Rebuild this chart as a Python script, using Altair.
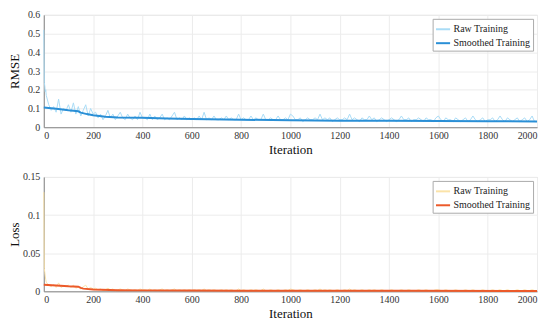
import altair as alt
import pandas as pd

# ---------------- data ----------------
raw_iter = [0, 2, 4, 6, 8] + list(range(10, 2001, 10))

rmse_raw = [0.52, 0.24, 0.22, 0.19, 0.2,
    0.17, 0.12, 0.09, 0.11, 0.08, 0.15, 0.07, 0.10, 0.09, 0.12,
    0.08, 0.13, 0.07, 0.11, 0.06, 0.09, 0.12, 0.06, 0.10, 0.07,
    0.08, 0.05, 0.07, 0.04, 0.06, 0.09, 0.05, 0.07, 0.04, 0.06,
    0.08, 0.05, 0.04, 0.07, 0.05, 0.04, 0.06, 0.04, 0.08, 0.05,
    0.05, 0.04, 0.07, 0.04, 0.06, 0.04, 0.05, 0.07, 0.04, 0.05,
    0.04, 0.06, 0.08, 0.04, 0.05, 0.04, 0.06, 0.04, 0.05, 0.04,
    0.05, 0.04, 0.06, 0.04, 0.08, 0.04, 0.05, 0.04, 0.06, 0.04,
    0.04, 0.05, 0.04, 0.06, 0.04, 0.05, 0.04, 0.04, 0.07, 0.04,
    0.05, 0.04, 0.04, 0.06, 0.04, 0.05, 0.04, 0.04, 0.07, 0.04,
    0.04, 0.05, 0.04, 0.04, 0.06, 0.04, 0.04, 0.05, 0.04, 0.07,
    0.06, 0.04, 0.04, 0.05, 0.03, 0.04, 0.05, 0.04, 0.04, 0.05,
    0.04, 0.07, 0.04, 0.05, 0.04, 0.05, 0.03, 0.04, 0.05, 0.04,
    0.04, 0.05, 0.04, 0.07, 0.04, 0.05, 0.04, 0.03, 0.05, 0.04,
    0.04, 0.06, 0.04, 0.05, 0.03, 0.04, 0.05, 0.04, 0.03, 0.04,
    0.05, 0.04, 0.03, 0.04, 0.06, 0.04, 0.04, 0.05, 0.03, 0.04,
    0.04, 0.05, 0.04, 0.03, 0.05, 0.04, 0.04, 0.03, 0.05, 0.06,
    0.04, 0.03, 0.05, 0.04, 0.04, 0.03, 0.05, 0.04, 0.03, 0.04,
    0.05, 0.03, 0.04, 0.06, 0.04, 0.03, 0.04, 0.05, 0.03, 0.04,
    0.04, 0.05, 0.03, 0.04, 0.06, 0.04, 0.03, 0.05, 0.04, 0.03,
    0.04, 0.05, 0.03, 0.04, 0.05, 0.03, 0.04, 0.06, 0.03, 0.03]

loss_raw = [0.13, 0.03, 0.025, 0.02, 0.015,
    0.012, 0.008, 0.006, 0.009, 0.005, 0.011, 0.005, 0.007, 0.006, 0.008,
    0.005, 0.008, 0.004, 0.006, 0.003, 0.006, 0.008, 0.003, 0.005, 0.003,
    0.004, 0.002, 0.003, 0.001, 0.002, 0.004, 0.002, 0.003, 0.001, 0.002,
    0.003, 0.002, 0.001, 0.003, 0.002, 0.001, 0.002, 0.001, 0.003, 0.002,
    0.002, 0.001, 0.003, 0.001, 0.002, 0.001, 0.002, 0.003, 0.001, 0.002,
    0.001, 0.002, 0.003, 0.001, 0.002, 0.001, 0.002, 0.001, 0.002, 0.001,
    0.002, 0.001, 0.002, 0.001, 0.003, 0.001, 0.002, 0.001, 0.002, 0.001,
    0.001, 0.002, 0.001, 0.002, 0.001, 0.002, 0.001, 0.001, 0.003, 0.001,
    0.002, 0.001, 0.001, 0.002, 0.001, 0.002, 0.001, 0.001, 0.003, 0.001,
    0.001, 0.002, 0.001, 0.001, 0.002, 0.001, 0.001, 0.002, 0.001, 0.003,
    0.002, 0.001, 0.001, 0.002, 0.001, 0.001, 0.002, 0.001, 0.001, 0.002,
    0.001, 0.003, 0.001, 0.002, 0.001, 0.002, 0.001, 0.001, 0.002, 0.001,
    0.001, 0.002, 0.001, 0.003, 0.001, 0.002, 0.001, 0.001, 0.002, 0.001,
    0.001, 0.002, 0.001, 0.002, 0.001, 0.001, 0.002, 0.001, 0.001, 0.001,
    0.002, 0.001, 0.001, 0.001, 0.002, 0.001, 0.001, 0.002, 0.001, 0.001,
    0.001, 0.002, 0.001, 0.001, 0.002, 0.001, 0.001, 0.001, 0.002, 0.002,
    0.001, 0.001, 0.002, 0.001, 0.001, 0.001, 0.002, 0.001, 0.001, 0.001,
    0.002, 0.001, 0.001, 0.002, 0.001, 0.001, 0.001, 0.002, 0.001, 0.001,
    0.001, 0.002, 0.001, 0.001, 0.002, 0.001, 0.001, 0.002, 0.001, 0.001,
    0.001, 0.002, 0.001, 0.001, 0.002, 0.001, 0.001, 0.002, 0.001, 0.001]

rmse_smooth_iter = [0, 50, 100, 140, 150, 175, 200, 250, 300, 400, 500, 600,
                    800, 1000, 1200, 1400, 1600, 1800, 2000]
rmse_smooth = [0.105, 0.098, 0.09, 0.085, 0.078, 0.07, 0.064, 0.056, 0.052,
               0.05, 0.047, 0.044, 0.04, 0.037, 0.035, 0.034, 0.033, 0.032, 0.031]

loss_smooth_iter = [0, 50, 100, 140, 150, 160, 200, 300, 400, 600, 800, 1000,
                    1500, 2000]
loss_smooth = [0.0085, 0.0075, 0.0065, 0.006, 0.0045, 0.0035, 0.0025, 0.0015,
               0.0012, 0.0009, 0.0008, 0.0007, 0.0006, 0.0005]

series = ["Raw Training", "Smoothed Training"]
x_ticks = list(range(0, 2001, 200))

FONT = "Liberation Serif"


def panel(raw_vals, sm_iter, sm_vals, ymax, ystep, ytitle, colors, h):
    raw_df = pd.DataFrame({"Iteration": raw_iter, "value": raw_vals,
                           "series": series[0]})
    sm_df = pd.DataFrame({"Iteration": sm_iter, "value": sm_vals,
                          "series": series[1]})
    n = int(round(ymax / ystep))
    y_ticks = [round(i * ystep, 4) for i in range(n + 1)]
    x = alt.X("Iteration:Q", title="Iteration",
              scale=alt.Scale(domain=[0, 2000], nice=False),
              axis=alt.Axis(values=x_ticks, format="d", labelFont=FONT,
                            titleFont=FONT, labelPadding=3, titlePadding=3))
    y = alt.Y("value:Q", title=ytitle,
              scale=alt.Scale(domain=[0, ymax], nice=False),
              axis=alt.Axis(values=y_ticks, format=".2~f", labelFont=FONT,
                            titleFont=FONT, labelPadding=4, titleX=-22))
    color = alt.Color("series:N",
                      scale=alt.Scale(domain=series, range=colors),
                      legend=alt.Legend(title=None, orient="top-right",
                                        symbolType="stroke",
                                        symbolStrokeWidth=2,
                                        symbolSize=200,
                                        labelFont=FONT, labelFontSize=10,
                                        labelColor="#222", labelOffset=2,
                                        strokeColor="#aaa", fillColor="white",
                                        padding=2, offset=4, rowPadding=-2))
    raw = alt.Chart(raw_df).mark_line(strokeWidth=1).encode(x=x, y=y, color=color)
    sm = alt.Chart(sm_df).mark_line(strokeWidth=2).encode(x=x, y=y, color=color)
    return alt.layer(raw, sm).properties(width=496, height=h)


top = panel(rmse_raw, rmse_smooth_iter, rmse_smooth, 0.6, 0.1, "RMSE",
            ["#a9dcf6", "#2a8fd6"], 113)
bottom = panel(loss_raw, loss_smooth_iter, loss_smooth, 0.15, 0.05, "Loss",
               ["#fbe3a8", "#ec5a2a"], 115)

chart = alt.vconcat(top, bottom, spacing=14).resolve_scale(
    color="independent").properties(padding=0).configure_view(
    stroke="#ddd").configure_axis(
    labelFont=FONT, titleFont=FONT, labelFontSize=10, titleFontSize=13,
    titleFontWeight="normal", labelColor="#333", titleColor="#111",
    gridColor="#ececec", domainColor="#888", ticks=False)

chart.save("out.html", embed_options={"renderer": "svg", "actions": False})
